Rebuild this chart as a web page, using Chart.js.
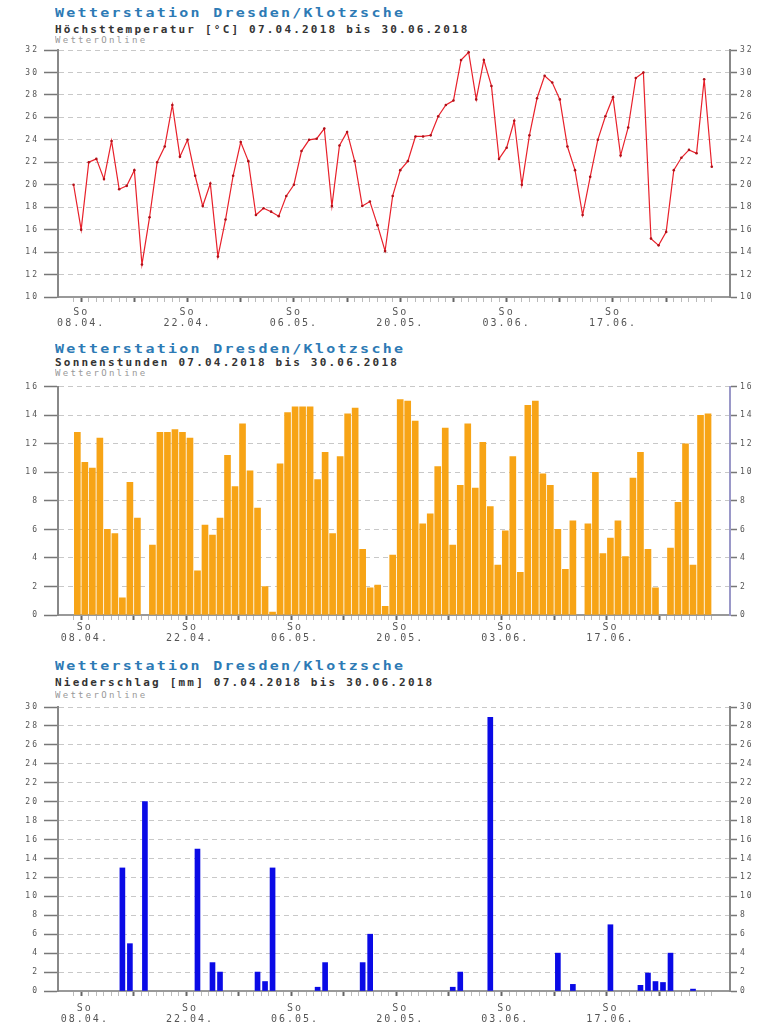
<!DOCTYPE html>
<html><head><meta charset="utf-8">
<script src="https://cdn.jsdelivr.net/npm/chart.js@4.4.0/dist/chart.umd.min.js"></script>
<style>
body{margin:0;background:#fff;width:770px;height:1027px;position:relative;overflow:hidden;font-family:"DejaVu Sans Mono",monospace}
.t{position:absolute;left:55px;white-space:nowrap;transform-origin:0 50%;line-height:1}
.h{color:#2d7ab5;font-weight:bold;font-size:13px;letter-spacing:2px;transform:scaleX(1.15)}
.s{color:#333;font-weight:bold;font-size:10px;letter-spacing:2px;transform:scaleX(1.1)}
.w{color:#999;font-size:8px;letter-spacing:2px;transform:scaleX(1.13)}
canvas{position:absolute;left:0}
</style></head><body>
<div class="t h" style="top:6px">Wetterstation Dresden/Klotzsche</div>
<div class="t s" style="top:24.5px">Höchsttemperatur [°C] 07.04.2018 bis 30.06.2018</div>
<div class="t w" style="top:37px">WetterOnline</div>
<div class="t h" style="top:341.5px">Wetterstation Dresden/Klotzsche</div>
<div class="t s" style="top:358px">Sonnenstunden 07.04.2018 bis 30.06.2018</div>
<div class="t w" style="top:370px">WetterOnline</div>
<div class="t h" style="top:658.5px">Wetterstation Dresden/Klotzsche</div>
<div class="t s" style="top:678px">Niederschlag [mm] 07.04.2018 bis 30.06.2018</div>
<div class="t w" style="top:692px">WetterOnline</div>
<canvas id="c1" width="770" height="300" style="top:40px"></canvas>
<canvas id="c2" width="770" height="270" style="top:377px"></canvas>
<canvas id="c3" width="770" height="330" style="top:697px"></canvas>
<script>
// Day index 0 = 07.04.2018 ... 84 = 30.06.2018
const sundays = [1, 8, 15, 22, 29, 36, 43, 50, 57, 64, 71, 78];
const labelDays = [1, 15, 29, 43, 57, 71];
const labelTexts = [['So','08.04.'],['So','22.04.'],['So','06.05.'],['So','20.05.'],['So','03.06.'],['So','17.06.']];

const temperature = [20.0,16.0,22.0,22.3,20.5,23.9,19.6,19.9,21.3,12.9,
  17.1,22.0,23.4,27.1,22.5,24.0,20.8,18.1,20.1,13.6,
  16.9,20.8,23.8,22.1,17.3,17.9,17.6,17.2,19.0,20.0,
  23.0,24.0,24.1,25.0,18.1,23.5,24.7,22.1,18.1,18.5,
  16.4,14.1,19.0,21.3,22.1,24.3,24.3,24.4,26.1,27.1,
  27.5,31.1,31.8,27.6,31.1,28.8,22.3,23.3,25.7,20.0,
  24.4,27.7,29.7,29.1,27.6,23.4,21.3,17.3,20.7,24.0,
  26.1,27.8,22.6,25.1,29.5,30.0,15.2,14.6,15.8,21.3,
  22.4,23.1,22.8,29.4,21.6];

const sunshine = [12.8,10.7,10.3,12.4,6.0,5.7,1.2,9.3,6.8,0,
  4.9,12.8,12.8,13.0,12.8,12.4,3.1,6.3,5.6,6.8,
  11.2,9.0,13.4,10.1,7.5,2.0,0.2,10.6,14.2,14.6,
  14.6,14.6,9.5,11.4,5.7,11.1,14.1,14.5,4.6,1.9,
  2.1,0.6,4.2,15.1,15.0,13.6,6.4,7.1,10.4,13.1,
  4.9,9.1,13.4,8.9,12.1,7.6,3.5,5.9,11.1,3.0,
  14.7,15.0,9.9,9.1,6.0,3.2,6.6,0,6.4,10.0,
  4.3,5.4,6.6,4.1,9.6,11.4,4.6,1.9,0,4.7,
  7.9,12.0,3.5,14.0,14.1];

const precipitation = [0,0,0,0,0,0,13.0,5.0,0,20.0,
  0,0,0,0,0,0,15.0,0,3.0,2.0,
  0,0,0,0,2.0,1.0,13.0,0,0,0,
  0,0,0.4,3.0,0,0,0,0,3.0,6.0,
  0,0,0,0,0,0,0,0,0,0,
  0.4,2.0,0,0,0,28.9,0,0,0,0,
  0,0,0,0,4.0,0,0.7,0,0,0,
  0,7.0,0,0,0,0.6,1.9,1.0,0.9,4.0,
  0,0,0.2,0,0];

const days = temperature.map((_, i) => i);
const toXY = arr => arr.map((v, i) => ({x: days[i], y: v}));
const toBars = arr => arr.map((v, i) => ({x: days[i], y: v > 0 ? v : null}));

const spacing = {id:'spacing', beforeDraw(c){ c.ctx.letterSpacing = '2px'; }};

function makeChart(id, type, dataset, ymin, ymax, padTop, xAxisH, xPad, rightColor){
  const yCommon = {
    min: ymin, max: ymax,
    ticks: {stepSize: 2, color:'#555', font:{family:'DejaVu Sans Mono', size:8}},
  };
  return new Chart(document.getElementById(id), {
    type: type,
    data: {datasets: [dataset]},
    plugins: [spacing],
    options: {
      responsive: false, animation: false, devicePixelRatio: 1,
      layout: {padding: {top: padTop, left: 0, right: 0, bottom: 0}},
      plugins: {legend:{display:false}, tooltip:{enabled:false}},
      scales: {
        x: {
          type: 'linear', min: -2.05, max: 86.4, bounds: 'data',
          afterBuildTicks: s => { s.ticks = days.map(v => ({value: v})); },
          afterFit: s => { s.height = xAxisH; },
          ticks: {
            autoSkip: false, maxRotation: 0, minRotation: 0, padding: xPad,
            color: '#555', font: {family:'DejaVu Sans Mono', size:10, lineHeight:1.15},
            callback: v => { const k = labelDays.indexOf(v); return k >= 0 ? labelTexts[k] : ''; }
          },
          grid: {
            drawOnChartArea: false, drawTicks: true, tickLength: 5,
            tickColor: c => (c.tick && sundays.includes(c.tick.value)) ? '#666' : '#bbb',
            tickWidth: c => (c.tick && sundays.includes(c.tick.value)) ? 2 : 1
          },
          border: {color:'#999', width: 2}
        },
        y: Object.assign({}, yCommon, {
          position: 'left',
          afterFit: s => { s.width = 58; },
          ticks: Object.assign({}, yCommon.ticks, {padding: 5}),
          grid: {color:'#c8c8c8', lineWidth: 1, tickLength: 14, tickColor:'#777', tickWidth: 1.5, tickBorderDash: []},
          border: {color:'#888', width: 2, dash:[5,4]}
        }),
        y2: Object.assign({}, yCommon, {
          position: 'right',
          afterFit: s => { s.width = 40; },
          ticks: Object.assign({}, yCommon.ticks, {padding: 3}),
          grid: {drawOnChartArea: false, tickLength: 7, tickColor:'#777', tickWidth: 1.5},
          border: {color: rightColor, width: 2}
        })
      }
    }
  });
}

makeChart('c1', 'line', {
  data: toXY(temperature), borderColor:'#e8202a', borderWidth: 1.2, tension: 0,
  pointRadius: 1.3, pointBackgroundColor:'#b01018', pointBorderWidth: 0
}, 10, 32, 10, 43, 4.4, '#888');

makeChart('c2', 'bar', {
  data: toBars(sunshine), backgroundColor:'#f7a416', borderWidth: 0, barThickness: 6
}, 0, 16, 5, 32, 1.4, '#9a98c8');

makeChart('c3', 'bar', {
  data: toBars(precipitation), backgroundColor:'#0a0ae6', borderWidth: 0, barThickness: 5
}, 0, 30, 10, 36, 6.4, '#888');
</script>
</body></html>
